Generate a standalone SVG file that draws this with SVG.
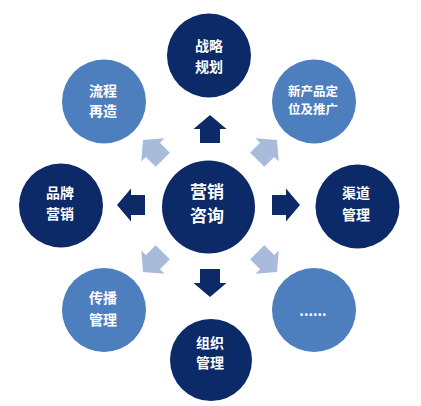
<svg xmlns="http://www.w3.org/2000/svg" width="421" height="406" viewBox="0 0 421 406">
<style>
.dark{fill:#0c2a67}
.light{fill:#4d7ebd}
.arrD{fill:#0c2a67}
.arrL{fill:#a9bbda}
text{font-family:"Noto Sans CJK SC","Noto Sans",sans-serif;font-weight:bold;fill:#ffffff;text-anchor:middle;font-size:14px}
.big{font-size:17px}
.sm{font-size:12.5px}
</style>
<defs>
<path id="arr" d="M0,0 L16.5,14 L10,14 L10,28 L-10,28 L-10,14 L-16.5,14 Z"/>
</defs>
<rect width="421" height="406" fill="#ffffff"/>
<g id="connectors">
<use href="#arr" class="arrD" transform="translate(210,115)"/>
<use href="#arr" class="arrD" transform="translate(210,297) rotate(180)"/>
<use href="#arr" class="arrD" transform="translate(117,205) rotate(-90)"/>
<use href="#arr" class="arrD" transform="translate(300,205) rotate(90)"/>
<use href="#arr" class="arrL" transform="translate(143,140) rotate(-45)"/>
<use href="#arr" class="arrL" transform="translate(277,140) rotate(45)"/>
<use href="#arr" class="arrL" transform="translate(143,272) rotate(-135)"/>
<use href="#arr" class="arrL" transform="translate(277,272) rotate(135)"/>
</g>
<g id="center">
<circle class="dark" cx="208.5" cy="207" r="46.5"/>
<text class="big" x="207" y="198">营销</text>
<text class="big" x="207" y="222">咨询</text>
</g>
<g id="top">
<circle class="dark" cx="209" cy="55.5" r="42"/>
<text x="209" y="51">战略</text>
<text x="209" y="72">规划</text>
</g>
<g id="topleft">
<circle class="light" cx="104" cy="101.5" r="42"/>
<text x="103" y="96">流程</text>
<text x="103" y="116">再造</text>
</g>
<g id="topright">
<circle class="light" cx="314" cy="101.5" r="42"/>
<text class="sm" x="313" y="96">新产品定</text>
<text class="sm" x="313" y="114">位及推广</text>
</g>
<g id="left">
<circle class="dark" cx="61" cy="205.5" r="42"/>
<text x="60" y="198">品牌</text>
<text x="60" y="219">营销</text>
</g>
<g id="right">
<circle class="dark" cx="357.5" cy="206.5" r="42"/>
<text x="356" y="198">渠道</text>
<text x="356" y="220">管理</text>
</g>
<g id="bottomleft">
<circle class="light" cx="104" cy="310" r="42"/>
<text x="103" y="303">传播</text>
<text x="103" y="325">管理</text>
</g>
<g id="bottomright">
<circle class="light" cx="314" cy="310" r="42"/>
<text x="313" y="316">......</text>
</g>
<g id="bottom">
<circle class="dark" cx="211" cy="360" r="41"/>
<text x="210" y="348">组织</text>
<text x="210" y="368">管理</text>
</g>
</svg>
